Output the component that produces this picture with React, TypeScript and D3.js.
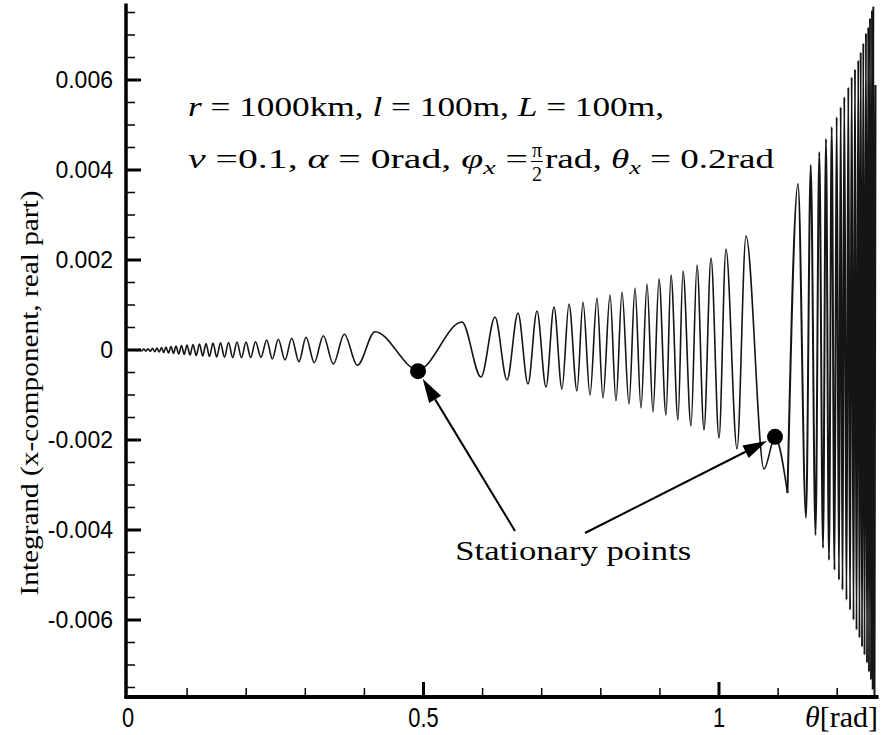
import React from "react";
import * as d3 from "d3";

// extrema of the integrand, [theta (rad), value]
const ripple: [number, number][] = [
  [0, 0], [0.0047, 0.000007], [0.0084, -0.000009], [0.012, 0.000011], [0.0157, -0.000013],
  [0.0193, 0.000016], [0.023, -0.000018], [0.0266, 0.000022], [0.0302, -0.000024],
  [0.0338, 0.000027], [0.0376, -0.000027], [0.0415, 0.000036], [0.0452, -0.000036],
  [0.0491, 0.000044], [0.0528, -0.000044], [0.0567, 0.000056], [0.0604, -0.000056],
  [0.0643, 0.000067], [0.0685, -0.000067], [0.0728, 0.000078], [0.077, -0.000078],
  [0.0812, 0.000089], [0.0858, -0.000089], [0.0905, 0.0001], [0.0951, -0.0001],
  [0.0998, 0.000111], [0.1049, -0.000111], [0.11, 0.000122], [0.1154, -0.000122],
  [0.121, 0.000133], [0.1264, -0.000133], [0.132, 0.000144], [0.1379, -0.000144],
  [0.1438, 0.000156], [0.1501, -0.000156], [0.1565, 0.00016], [0.1633, -0.00016],
  [0.1701, 0.000167], [0.1772, -0.000167], [0.1844, 0.000178], [0.192, -0.000173],
  [0.1997, 0.000178], [0.2076, -0.000167], [0.2157, 0.000184], [0.225, -0.000162],
  [0.2347, 0.000222], [0.2442, -0.0002], [0.2543, 0.000238], [0.2657, -0.000222],
  [0.277, 0.00026], [0.2893, -0.00026], [0.3012, 0.000282], [0.3152, -0.000282],
  [0.3305, 0.000318], [0.3474, -0.000311], [0.366, 0.000349], [0.388, -0.00034],
  [0.4179, 0.000407],
];

const fan: [number, number][] = [
  [0.4907, -0.000444], [0.5651, 0.000622], [0.5973, -0.0006], [0.621, 0.000733],
  [0.6413, -0.000667], [0.6599, 0.000822], [0.6768, -0.000756], [0.692, 0.000867],
  [0.7073, -0.000822], [0.7208, 0.000956], [0.7343, -0.000867], [0.7462, 0.001022],
  [0.7597, -0.000911], [0.7699, 0.001067], [0.7817, -0.001], [0.7936, 0.001156],
  [0.8037, -0.001067], [0.8156, 0.001222], [0.8257, -0.001133], [0.8359, 0.001289],
  [0.8477, -0.0012], [0.8579, 0.001378], [0.868, -0.001289], [0.8782, 0.001467],
  [0.8883, -0.001378], [0.8985, 0.001578], [0.9103, -0.001444], [0.9188, 0.001667],
  [0.9306, -0.001556], [0.9391, 0.001756], [0.9526, -0.001689], [0.9628, 0.001889],
  [0.9746, -0.001778], [0.9865, 0.002044], [1.0, -0.001956], [1.0118, 0.002244],
  [1.0305, -0.0022], [1.0457, 0.002533], [1.0761, -0.002644], [1.0948, -0.00194],
  [1.1159, -0.003178],
];

const dense: [number, number][] = [
  [1.1159, -0.003178],
  [1.1337, 0.003689], [1.1472, -0.003733], [1.1552, 0.004111], [1.1633, -0.004111],
  [1.1697, 0.0044], [1.176, -0.0044], [1.181, 0.004689], [1.1861, -0.004667],
  [1.1907, 0.004956], [1.1954, -0.004889], [1.1991, 0.005178], [1.203, -0.005111],
  [1.2059, 0.0054], [1.209, -0.005333], [1.212, 0.005622], [1.2157, -0.005556],
  [1.2188, 0.005844], [1.2217, -0.005778], [1.2245, 0.006067], [1.2276, -0.006],
  [1.2301, 0.006244], [1.2327, -0.006222], [1.2357, 0.006444], [1.2377, -0.0064],
  [1.2398, 0.006622], [1.242, -0.0066], [1.2442, 0.006822], [1.2462, -0.006778],
  [1.2487, 0.007044], [1.2504, -0.006956], [1.2526, 0.007178], [1.2538, -0.007156],
  [1.2555, 0.007378], [1.2572, -0.007333], [1.2589, 0.007556], [1.2601, -0.007556],
  [1.2611, 0.007644], [1.2631, -0.00771], [1.2648, 0.005889],
];

const stationaryTheta = [0.4907, 1.0948];
const stationaryValue = [-0.00047, -0.00193];

const yMajor = [-0.006, -0.004, -0.002, 0, 0.002, 0.004, 0.006];
const xMajor = [0, 0.5, 1];
const xLabels = ["0", "0.5", "1"];

const W = 881;
const H = 735;
const serif = "Liberation Serif, Times New Roman, serif";
const sans = "Liberation Sans, Arial, sans-serif";

export default function App() {
  const x = d3.scaleLinear().domain([0, 1.27]).range([128, 128 + 591 * 1.27]);
  const y = d3.scaleLinear().domain([-0.0077, 0.0077]).range([696.5, 3.5]);

  const line = d3
    .line<[number, number]>()
    .x((d) => x(d[0]))
    .y((d) => y(d[1]))
    .curve(d3.curveMonotoneX);

  const yMinor = d3.range(-15, 16).map((i) => i * 0.0005).filter((v) => Math.abs(Math.round(v / 0.0005)) % 4 !== 0);
  const xMinor = d3.range(1, 13).map((i) => i / 10).filter((v) => Math.abs(v - 0.5) > 1e-6 && Math.abs(v - 1) > 1e-6);

  // label + arrow tails for the annotation
  const labelPos = { t: 0.7535, v: -0.00467 };
  const tails = [
    [0.6548, -0.00402],
    [0.7733, -0.004067],
  ];
  const dotR = 8;

  const arrows = stationaryTheta.map((t, i) => {
    const cx = x(t);
    const cy = y(stationaryValue[i]);
    const tx = x(tails[i][0]);
    const ty = y(tails[i][1]);
    const dx = cx - tx;
    const dy = cy - ty;
    const len = Math.hypot(dx, dy);
    const ux = dx / len;
    const uy = dy / len;
    const tipX = cx - ux * (dotR + 1);
    const tipY = cy - uy * (dotR + 1);
    const headL = 24;
    const headW = 7;
    const bx = tipX - ux * headL;
    const by = tipY - uy * headL;
    const head = `M${tipX},${tipY}L${bx - uy * headW},${by + ux * headW}L${bx + uy * headW},${by - ux * headW}Z`;
    return { tx, ty, bx, by, head };
  });

  return (
    <svg
      width={W}
      height={H}
      style={{ position: "absolute", left: 0, top: 0, background: "#fff" }}
    >
      <rect width={W} height={H} fill="#fff" />

      {/* curve */}
      <path d={line([...ripple, ...fan]) ?? ""} fill="none" stroke="#151515" strokeWidth={1.6} />
      <path d={line(dense) ?? ""} fill="none" stroke="#151515" strokeWidth={2} />

      {/* axes */}
      <line x1={126} x2={126} y1={y(0.0077)} y2={y(-0.0077) + 2} stroke="#000" strokeWidth={3.5} />
      <line x1={124.5} x2={x(1.27)} y1={697} y2={697} stroke="#000" strokeWidth={4} />

      {yMajor.map((v) => (
        <g key={"ym" + v}>
          <line x1={126} x2={141} y1={y(v)} y2={y(v)} stroke="#000" strokeWidth={3} />
          <text
            x={113}
            y={y(v) + 8}
            textAnchor="end"
            fontFamily={sans}
            fontSize={23}
            fill="#000"
          >
            {v === 0 ? "0" : d3.format(".3f")(v).replace("−", "-")}
          </text>
        </g>
      ))}
      {yMinor.map((v) => (
        <line key={"yn" + v} x1={126} x2={135} y1={y(v)} y2={y(v)} stroke="#000" strokeWidth={1.5} />
      ))}

      {xMajor.map((t, i) => (
        <g key={"xm" + t}>
          {t > 0 && <line x1={x(t)} x2={x(t)} y1={697} y2={682} stroke="#000" strokeWidth={3} />}
          <text
            x={x(t)}
            y={727}
            textAnchor="middle"
            fontFamily={sans}
            fontSize={28}
            fill="#000"
            transform={`translate(${x(t)},0) scale(0.78,1) translate(${-x(t)},0)`}
          >
            {xLabels[i]}
          </text>
        </g>
      ))}
      {xMinor.map((t) => (
        <line key={"xn" + t} x1={x(t)} x2={x(t)} y1={697} y2={688} stroke="#000" strokeWidth={1.5} />
      ))}

      <text x={805} y={727} fontFamily={serif} fontSize={29} fill="#000" textLength={73} lengthAdjust="spacingAndGlyphs">
        <tspan fontStyle="italic">θ</tspan>[rad]
      </text>

      <text
        transform={`translate(38,${393}) rotate(-90)`}
        textAnchor="middle"
        fontFamily={serif}
        fontSize={26}
        fill="#000"
        textLength={405}
        lengthAdjust="spacingAndGlyphs"
      >
        Integrand (x-component, real part)
      </text>

      {/* parameter block */}
      <text x={188} y={116} fontFamily={serif} fontSize={27} fill="#000" textLength={476} lengthAdjust="spacingAndGlyphs">
        <tspan fontStyle="italic">r</tspan> = 1000km, <tspan fontStyle="italic">l</tspan> = 100m,{" "}
        <tspan fontStyle="italic">L</tspan> = 100m,
      </text>
      <text x={188} y={168} fontFamily={serif} fontSize={27} fill="#000" textLength={340} lengthAdjust="spacingAndGlyphs">
        <tspan fontStyle="italic">ν</tspan> =0.1, <tspan fontStyle="italic">α</tspan> = 0rad,{" "}
        <tspan fontStyle="italic">φ</tspan>
        <tspan fontStyle="italic" fontSize={19} dy={6}>x</tspan>
        <tspan dy={-6}> =</tspan>
      </text>
      <text x={537} y={157} textAnchor="middle" fontFamily={serif} fontSize={20} fill="#000">π</text>
      <line x1={531} x2={543} y1={161.5} y2={161.5} stroke="#000" strokeWidth={1} />
      <text x={537} y={181} textAnchor="middle" fontFamily={serif} fontSize={20} fill="#000">2</text>
      <text x={545} y={168} fontFamily={serif} fontSize={27} fill="#000" textLength={229} lengthAdjust="spacingAndGlyphs">
        rad, <tspan fontStyle="italic">θ</tspan>
        <tspan fontStyle="italic" fontSize={19} dy={6}>x</tspan>
        <tspan dy={-6}> = 0.2rad</tspan>
      </text>

      {/* stationary points */}
      {arrows.map((a, i) => (
        <g key={"ar" + i}>
          <line x1={a.tx} y1={a.ty} x2={a.bx} y2={a.by} stroke="#000" strokeWidth={2} />
          <path d={a.head} fill="#000" />
        </g>
      ))}
      {stationaryTheta.map((t, i) => (
        <circle key={"sp" + i} cx={x(t)} cy={y(stationaryValue[i])} r={dotR} fill="#000" />
      ))}
      <text
        x={x(labelPos.t)}
        y={y(labelPos.v)}
        textAnchor="middle"
        fontFamily={serif}
        fontSize={27}
        fill="#000"
        textLength={236}
        lengthAdjust="spacingAndGlyphs"
      >
        Stationary points
      </text>
    </svg>
  );
}
